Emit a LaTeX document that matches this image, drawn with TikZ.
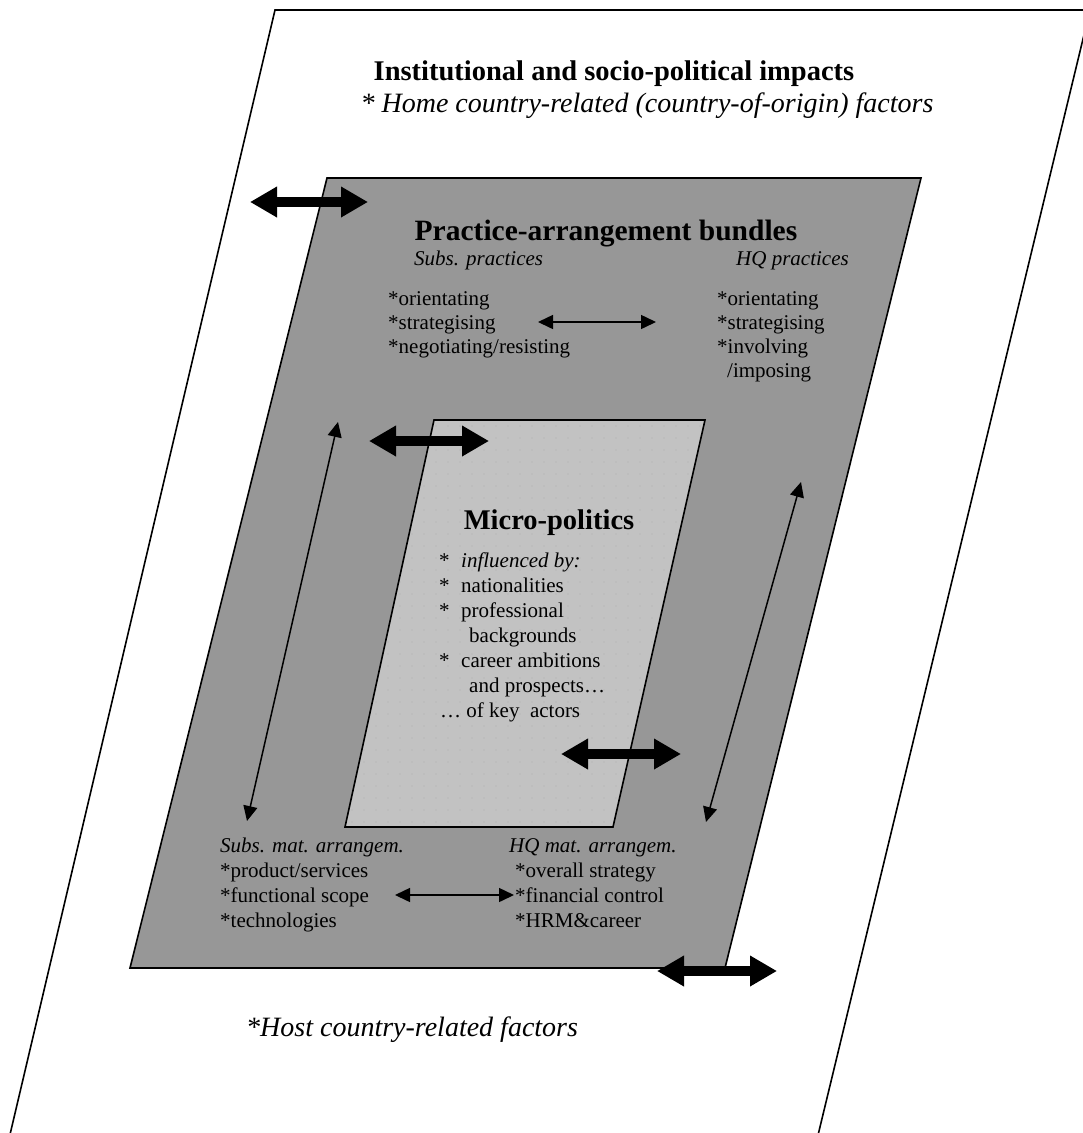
\documentclass[tikz,border=0pt]{standalone}
\usepackage{fontspec}
\setmainfont{Liberation Serif}
\usetikzlibrary{arrows.meta}
\definecolor{bundlegray}{RGB}{151,151,151}
\definecolor{microgray}{RGB}{194,194,194}
\definecolor{dotgray}{RGB}{176,176,176}
\tikzset{
  frame/.style={draw=black, line width=1.6pt},
  fat arrow/.style={line width=10pt, {Triangle[length=27pt,width=29pt]}-{Triangle[length=27pt,width=29pt]}},
  thin arrow/.style={line width=1.5pt, {Triangle[length=15pt,width=14pt]}-{Triangle[length=15pt,width=14pt]}},
  body/.style={anchor=base west, inner sep=0pt, font=\fontsize{21}{24}\selectfont},
  bodyit/.style={body, font=\fontsize{21}{24}\selectfont\itshape},
  outerit/.style={body, font=\fontsize{28}{32}\selectfont\itshape},
  head/.style={anchor=base, inner sep=0pt, font=\fontsize{28.5}{32}\selectfont\bfseries},
}
\begin{document}
\begin{tikzpicture}
\begin{scope}[x={(1pt,0)},y={(0,-1pt)}]
\useasboundingbox (0,0) rectangle (1083,1133);
\clip (0,0) rectangle (1083,1133);

% fields
\draw[frame] (4,1160) -- (275,10) -- (1090,10) -- (812,1160);
\draw[frame, fill=bundlegray] (327,178) -- (921,178) -- (725,968) -- (130,968) -- cycle;
\fill[microgray] (434,420) -- (705,420) -- (613,827) -- (345,827) -- cycle;
\begin{scope}
  \clip (434,420) -- (705,420) -- (613,827) -- (345,827) -- cycle;
  \foreach \x in {340,352,...,712}
    \foreach \y in {426,438,...,826}
      \fill[dotgray] (\x,\y) circle (0.7);
\end{scope}
\draw[frame] (434,420) -- (705,420) -- (613,827) -- (345,827) -- cycle;

% outer texts
\node[head] (inst) at (614,80) {Institutional and socio-political impacts};
\node[outerit, anchor=base] (home) at (647,112) {* Home country-related (country-of-origin) factors};
\node[outerit] (host) at (246,1036) {*Host country-related factors};

% practices
\node[head, font=\fontsize{29.5}{33}\selectfont\bfseries] (bundles) at (606,240) {Practice-arrangement bundles};
\node[bodyit] (subsprac) at (414,265) {Subs. practices};
\node[bodyit] (hqprac) at (736,265) {HQ practices};
\foreach \t [count=\i from 0] in {*orientating,*strategising,*negotiating/resisting}
  \node[body] (subs-\i) at (388,305+24*\i) {\t};
\foreach \t [count=\i from 0] in {*orientating,*strategising,*involving}
  \node[body] (hq-\i) at (717,305+24*\i) {\t};
\node[body] (hq-3) at (727,377) {/imposing};

% micro-politics
\node[head] (micro) at (549,529) {Micro-politics};
\node[body] (mp-0) at (439,567) {\makebox[22pt][l]{*}\textit{influenced by:}};
\node[body] (mp-1) at (439,592) {\makebox[22pt][l]{*}nationalities};
\node[body] (mp-2) at (439,617) {\makebox[22pt][l]{*}professional};
\node[body] (mp-3) at (469,642) {backgrounds};
\node[body] (mp-4) at (439,667) {\makebox[22pt][l]{*}career ambitions};
\node[body] (mp-5) at (469,692) {and prospects…};
\node[body] (mp-6) at (440,717) {… of key\ \ actors};

% material arrangements
\node[bodyit] (subsmat) at (220,852) {Subs. mat. arrangem.};
\foreach \t [count=\i from 0] in {*product/services,*functional scope,*technologies}
  \node[body] (sm-\i) at (220,877+25*\i) {\t};
\node[bodyit] (hqmat) at (509,852) {HQ mat. arrangem.};
\foreach \t [count=\i from 0] in {*overall strategy,*financial control,*HRM\&career}
  \node[body] (hm-\i) at (515,877+25*\i) {\t};

% connectors
\coordinate (pl) at (538,322);
\coordinate (pr) at (656,322);
\coordinate (ml) at (395,895);
\coordinate (mr) at (514,895);
\coordinate (lt) at (338,422);
\coordinate (lb) at (247,821);
\coordinate (rt) at (801,482);
\coordinate (rb) at (706,822);
\draw[thin arrow] (pl) -- (pr);
\draw[thin arrow] (ml) -- (mr);
\draw[thin arrow] (lt) -- (lb);
\draw[thin arrow] (rt) -- (rb);

% fat arrows across borders
\foreach \a/\b/\y in {250/368/202, 369/489/441, 561/681/754, 657/777/971}
  \draw[fat arrow] (\a,\y) -- (\b,\y);
\end{scope}
\end{tikzpicture}
\end{document}
